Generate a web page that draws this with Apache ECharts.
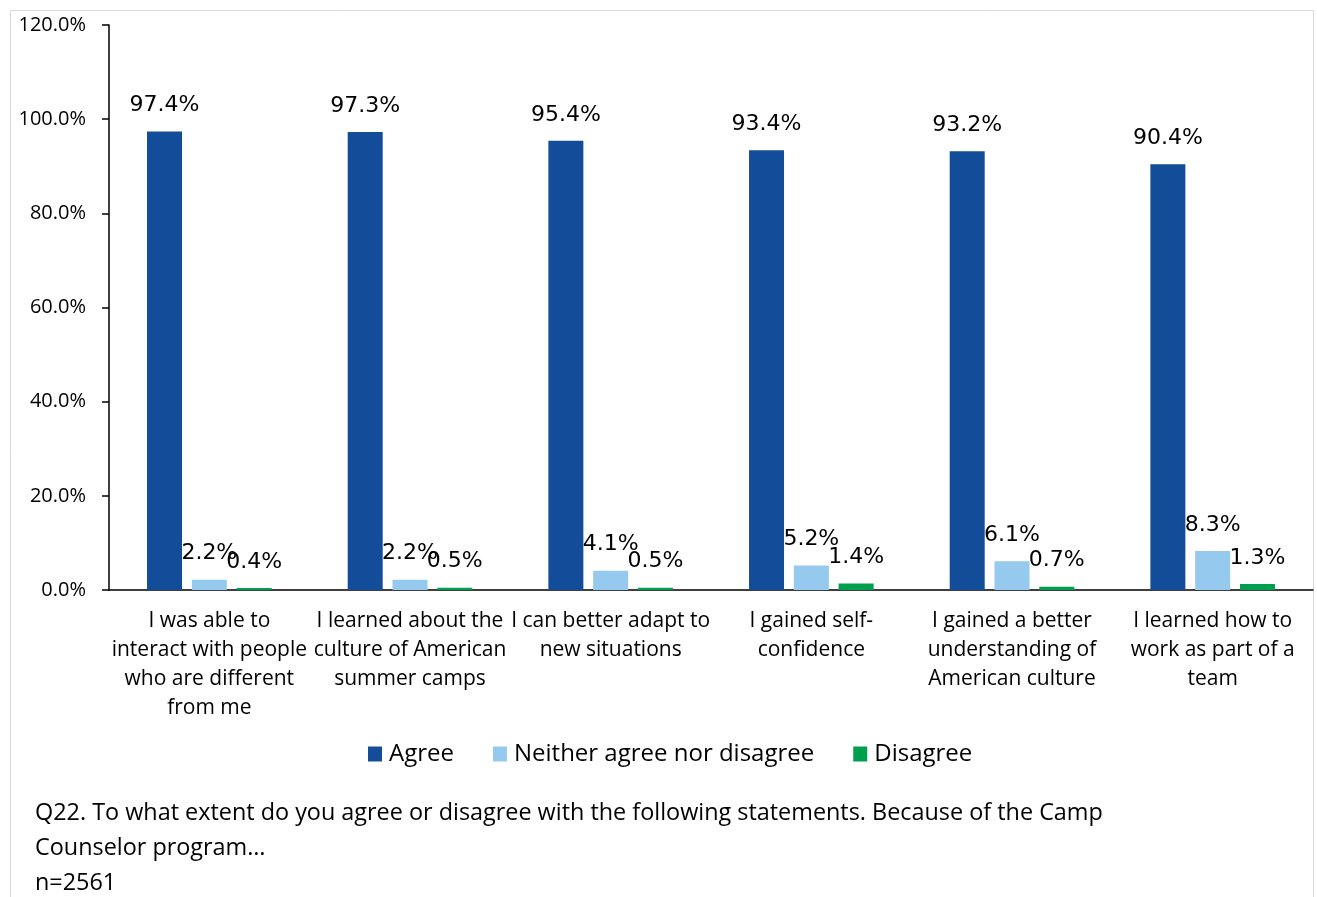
<!DOCTYPE html>
<html>
<head>
<meta charset="utf-8">
<script src="https://cdn.jsdelivr.net/npm/echarts@6/dist/echarts.min.js"></script>
<style>
  html, body { margin: 0; padding: 0; background: #fff; }
  #chart { width: 1317px; height: 897px; }
</style>
</head>
<body>
<div id="chart"></div>
<script>
// Survey statements (line breaks follow the wrapped axis labels)
const categories = [
  'I was able to\ninteract with people\nwho are different\nfrom me',
  'I learned about the\nculture of American\nsummer camps',
  'I can better adapt to\nnew situations',
  'I gained self-\nconfidence',
  'I gained a better\nunderstanding of\nAmerican culture',
  'I learned how to\nwork as part of a\nteam'
];

// Share of respondents (%)
const agree    = [97.4, 97.3, 95.4, 93.4, 93.2, 90.4];
const neither  = [2.2, 2.2, 4.1, 5.2, 6.1, 8.3];
const disagree = [0.4, 0.5, 0.5, 1.4, 0.7, 1.3];

const seriesNames = ['Agree', 'Neither agree nor disagree', 'Disagree'];
const yTicks = { min: 0, max: 120, interval: 20 };

const noteLines = [
  'Q22. To what extent do you agree or disagree with the following statements. Because of the Camp',
  'Counselor program…',
  'n=2561'
];

const axisFont = 'Open Sans';
const labelFont = 'DejaVu Sans';

const chart = echarts.init(document.getElementById('chart'), null, { renderer: 'canvas' });

function barSeries(name, data, color) {
  return {
    name: name,
    type: 'bar',
    data: data,
    barWidth: 35,
    barGap: '28%',
    itemStyle: { color: color },
    label: {
      show: true,
      position: 'top',
      distance: 15,
      formatter: p => p.value.toFixed(1) + '%',
      fontFamily: labelFont,
      fontSize: 22,
      color: '#000'
    },
    emphasis: { disabled: true },
    animation: false
  };
}

chart.setOption({
  animation: false,
  graphic: [
    {
      type: 'rect',
      shape: { x: 10.5, y: 10.5, width: 1303, height: 900 },
      style: { fill: 'none', stroke: '#d9d9d9', lineWidth: 1 },
      z: -10
    },
    {
      type: 'text',
      left: 35,
      top: 796,
      style: {
        text: noteLines.join('\n'),
        fontFamily: axisFont,
        fontSize: 23.4,
        lineHeight: 35,
        fill: '#000'
      }
    }
  ],
  grid: { left: 109, right: 4, top: 25, bottom: 307, containLabel: false },
  legend: {
    data: seriesNames,
    left: 363,
    top: 737,
    itemWidth: 14,
    itemHeight: 15,
    itemGap: 39,
    icon: 'rect',
    textStyle: { fontFamily: axisFont, fontSize: 24, color: '#000', padding: [0, 0, 0, 2] },
    selectedMode: false
  },
  xAxis: {
    type: 'category',
    data: categories,
    axisLine: { lineStyle: { color: '#000', width: 1.5 } },
    axisTick: { show: false },
    axisLabel: {
      interval: 0,
      margin: 17,
      fontFamily: axisFont,
      fontSize: 21,
      lineHeight: 29,
      color: '#000',
      align: 'center'
    }
  },
  yAxis: {
    type: 'value',
    min: yTicks.min,
    max: yTicks.max,
    interval: yTicks.interval,
    splitLine: { show: false },
    axisLine: { show: true, lineStyle: { color: '#000', width: 1.5 } },
    axisTick: { show: true, length: 7, lineStyle: { color: '#000', width: 1.5 } },
    axisLabel: {
      margin: 23,
      formatter: v => v.toFixed(1) + '%',
      fontFamily: axisFont,
      fontSize: 20,
      color: '#000'
    }
  },
  series: [
    barSeries(seriesNames[0], agree, '#134C98'),
    barSeries(seriesNames[1], neither, '#95CAEE'),
    barSeries(seriesNames[2], disagree, '#009E4F')
  ]
});
</script>
</body>
</html>
